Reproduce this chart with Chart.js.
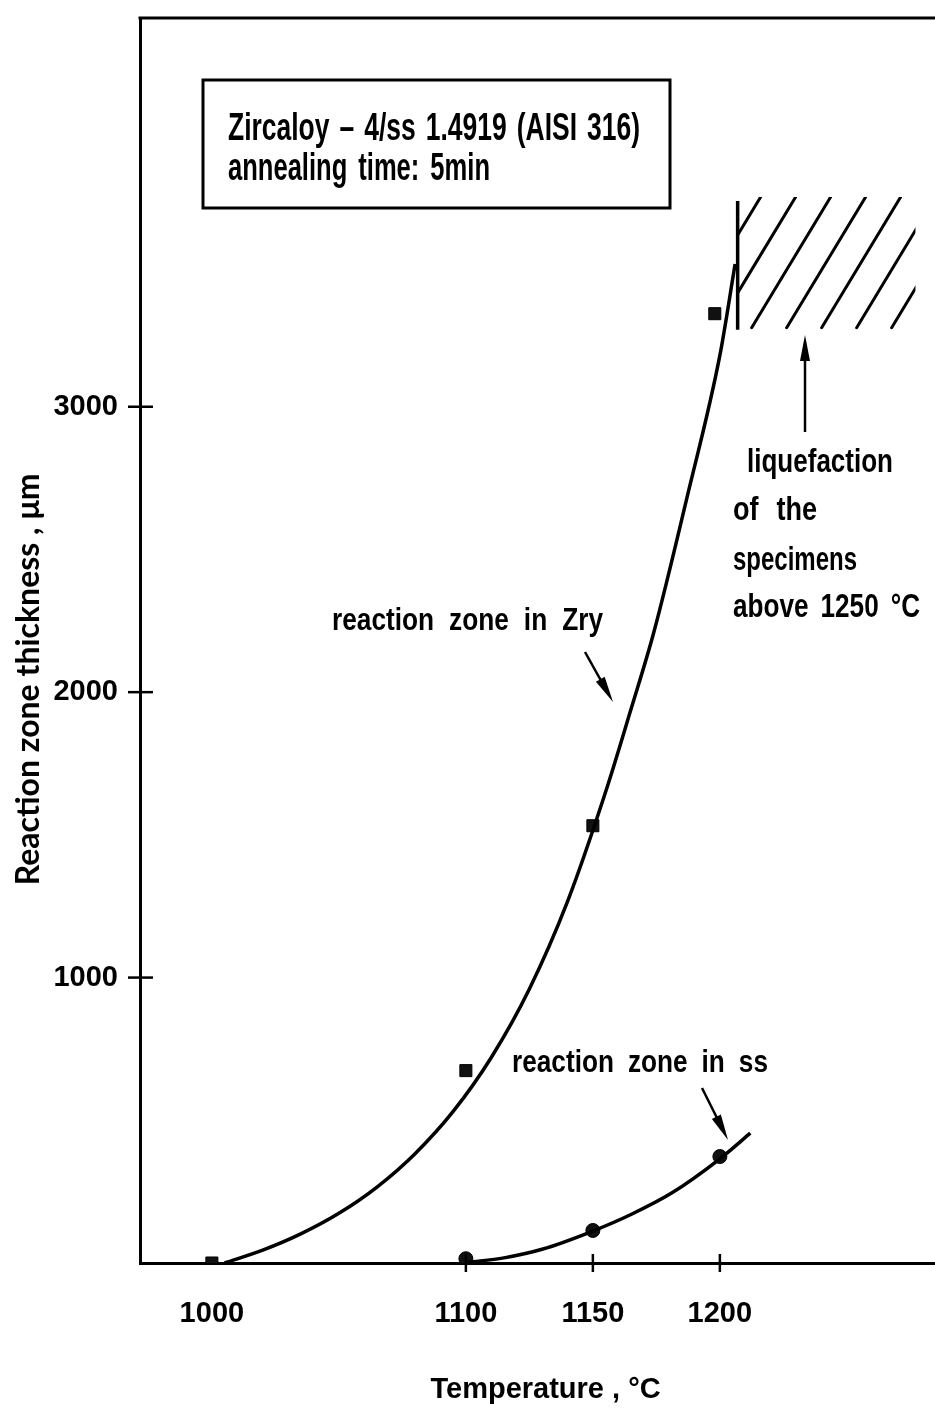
<!DOCTYPE html>
<html><head><meta charset="utf-8">
<script src="https://cdn.jsdelivr.net/npm/chart.js@4"></script>
<style>html,body{margin:0;padding:0;background:#fff;overflow:hidden}#wrap{width:935px;height:1413px;position:relative}</style>
</head><body><div id="wrap"><canvas id="c" width="935" height="1413"></canvas></div>
<script>
// ---- data ----
const xTicks = [1000, 1100, 1150, 1200];
const yTicks = [1000, 2000, 3000];
const zryT = [1000, 1100, 1150, 1198];
const zryV = [0, 674, 1532, 3326];
const ssT = [1100, 1150, 1200];
const ssV = [15, 114, 373];
const zryCurveT = [1005, 1020, 1035, 1050, 1065, 1080, 1095, 1110, 1125, 1140, 1155, 1165, 1174, 1187, 1200, 1206];
const zryCurveV = [0, 45, 102, 174, 266, 383, 531, 720, 960, 1266, 1650, 1940, 2210, 2680, 3180, 3500];
const ssCurveT = [1101, 1115, 1130, 1150, 1165, 1181, 1200, 1212];
const ssCurveV = [2, 18, 48, 112, 170, 245, 365, 455];
const liqT = [1207, 1277];
const liqV = [3270, 3735];
const xTitle = '\u00a0\u00a0Temperature , °C';
const yTitle = 'Reaction zone thickness , μm';

const TXT = '"Liberation Sans", Arimo, Arial, sans-serif';
const pts = (xs, ys) => xs.map((x, i) => ({x, y: ys[i]}));

// annotations in pixel space (text: left, baseline, target width, font size, min gap)
const texts = [
  {t: 'Zircaloy – 4/ss 1.4919 (AISI 316)', x: 228, y: 140, w: 412, s: 38, g: 10},
  {t: 'annealing time: 5min', x: 228, y: 180, w: 262, s: 38, g: 11},
  {t: 'liquefaction', x: 747, y: 472, w: 146, s: 33, g: 12},
  {t: 'of the', x: 733, y: 520, w: 84, s: 33, g: 12},
  {t: 'specimens', x: 733, y: 570, w: 124, s: 33, g: 12},
  {t: 'above 1250 °C', x: 733, y: 617, w: 187, s: 33, g: 12},
  {t: 'reaction zone in Zry', x: 332, y: 630, w: 271, s: 32, g: 14},
  {t: 'reaction zone in ss', x: 512, y: 1072, w: 256, s: 32, g: 14}
];
const arrows = [
  {x1: 585, y1: 652, x2: 613, y2: 702},
  {x1: 702, y1: 1088, x2: 728, y2: 1140},
  {x1: 805, y1: 432, x2: 805, y2: 335}
];

function drawJustified(ctx, o) {
  ctx.font = 'bold ' + o.s + 'px ' + TXT;
  const words = o.t.split(' ');
  const ws = words.map(w => ctx.measureText(w).width);
  const sum = ws.reduce((a, b) => a + b, 0);
  const n = words.length;
  let k, gap;
  if (n === 1) { k = o.w / sum; gap = 0; }
  else {
    k = Math.min(0.82, (o.w - o.g * (n - 1)) / sum);
    gap = (o.w - sum * k) / (n - 1);
  }
  let cx = o.x;
  words.forEach((w, i) => {
    ctx.save(); ctx.translate(cx, o.y); ctx.scale(k, 1); ctx.fillText(w, 0, 0); ctx.restore();
    cx += ws[i] * k + gap;
  });
}

const decor = {
  id: 'decor',
  afterDatasetsDraw(chart) {
    const {ctx, chartArea: a, scales: {x, y}} = chart;
    ctx.save();
    ctx.strokeStyle = '#000'; ctx.fillStyle = '#000';
    ctx.lineCap = 'butt';
    // top frame line
    ctx.lineWidth = 3;
    ctx.beginPath(); ctx.moveTo(a.left - 1.5, a.top); ctx.lineTo(a.right, a.top); ctx.stroke();
    // crossing ticks
    ctx.lineWidth = 2.5;
    yTicks.forEach(v => { const p = y.getPixelForValue(v); ctx.beginPath(); ctx.moveTo(a.left - 12, p); ctx.lineTo(a.left + 13, p); ctx.stroke(); });
    xTicks.slice(1).forEach(v => { const p = x.getPixelForValue(v); ctx.beginPath(); ctx.moveTo(p, a.bottom - 9); ctx.lineTo(p, a.bottom + 9); ctx.stroke(); });
    // hatched liquefaction region
    const hx1 = x.getPixelForValue(liqT[0]), hx2 = x.getPixelForValue(liqT[1]);
    const hy1 = y.getPixelForValue(liqV[1]), hy2 = y.getPixelForValue(liqV[0]);
    ctx.save();
    ctx.beginPath(); ctx.rect(hx1, hy1, hx2 - hx1, hy2 - hy1); ctx.clip();
    ctx.lineWidth = 3; ctx.lineCap = 'round';
    const slope = 1.68, h = hy2 - hy1;
    for (let k = -8; k < 8; k++) {
      const bx = hx1 + 14 + k * 35;
      ctx.beginPath(); ctx.moveTo(bx, hy2 - 2); ctx.lineTo(bx + h / slope, hy1); ctx.stroke();
    }
    ctx.restore();
    ctx.lineWidth = 3.5;
    ctx.beginPath(); ctx.moveTo(hx1, hy1 + 4); ctx.lineTo(hx1, hy2); ctx.stroke();
    // box
    ctx.lineWidth = 3;
    ctx.strokeRect(203, 80, 467, 128);
    // texts
    ctx.textBaseline = 'alphabetic'; ctx.textAlign = 'left';
    texts.forEach(o => drawJustified(ctx, o));
    // arrows
    arrows.forEach(r => {
      const ang = Math.atan2(r.y2 - r.y1, r.x2 - r.x1), L = 26, W = 5;
      ctx.lineWidth = 2.5;
      ctx.beginPath(); ctx.moveTo(r.x1, r.y1); ctx.lineTo(r.x2 - Math.cos(ang) * 10, r.y2 - Math.sin(ang) * 10); ctx.stroke();
      ctx.beginPath();
      ctx.moveTo(r.x2, r.y2);
      ctx.lineTo(r.x2 - L * Math.cos(ang) + W * Math.sin(ang), r.y2 - L * Math.sin(ang) - W * Math.cos(ang));
      ctx.lineTo(r.x2 - L * Math.cos(ang) - W * Math.sin(ang), r.y2 - L * Math.sin(ang) + W * Math.cos(ang));
      ctx.closePath(); ctx.fill();
    });
    ctx.restore();
  }
};

const noPad = s => { s.paddingTop = 0; s.paddingBottom = 0; s.paddingLeft = 0; s.paddingRight = 0; };

new Chart(document.getElementById('c'), {
  type: 'scatter',
  data: {
    datasets: [
      {data: pts(zryCurveT, zryCurveV), showLine: true, borderColor: '#000', borderWidth: 3.5, pointRadius: 0, cubicInterpolationMode: 'monotone'},
      {data: pts(ssCurveT, ssCurveV), showLine: true, borderColor: '#000', borderWidth: 3.5, pointRadius: 0, cubicInterpolationMode: 'monotone'},
      {data: pts(zryT, zryV), showLine: false, pointStyle: 'rect', pointRadius: 8.5, backgroundColor: '#111', borderColor: '#000', borderWidth: 1},
      {data: pts(ssT, ssV), showLine: false, pointStyle: 'circle', pointRadius: 7, backgroundColor: '#111', borderColor: '#000', borderWidth: 1}
    ]
  },
  options: {
    responsive: false, animation: false, devicePixelRatio: 1,
    layout: {autoPadding: false, padding: {top: 18, right: 0, left: 0, bottom: 0}},
    plugins: {legend: {display: false}, tooltip: {enabled: false}},
    scales: {
      x: {
        type: 'linear', min: 971.7, max: 1284.7,
        afterFit: s => { s.height = 150; noPad(s); },
        afterBuildTicks: s => { s.ticks = xTicks.map(v => ({value: v})); },
        grid: {display: false},
        border: {display: true, color: '#000', width: 3},
        ticks: {padding: 26, color: '#000', font: {family: TXT, size: 29, weight: 'bold'}, callback: v => String(v), maxRotation: 0, autoSkip: false},
        title: {display: true, text: xTitle, color: '#000', font: {family: TXT, size: 29, weight: 'bold'}, padding: {top: 0, bottom: 6}}
      },
      y: {
        type: 'linear', min: 0, max: 4362,
        afterFit: s => { s.width = 140; noPad(s); },
        afterBuildTicks: s => { s.ticks = yTicks.map(v => ({value: v})); },
        grid: {display: false},
        border: {display: true, color: '#000', width: 3},
        ticks: {padding: 14, color: '#000', font: {family: TXT, size: 29, weight: 'bold'}, callback: v => String(v)},
        title: {display: true, text: yTitle + '\u00a0\u00a0\u00a0\u00a0\u00a0\u00a0\u00a0\u00a0\u00a0\u00a0', color: '#000', font: {family: 'Lato, "Open Sans", sans-serif', size: 32, weight: 'bold'}, padding: {top: 9, bottom: 0}}
      }
    }
  },
  plugins: [decor]
});
</script></body></html>
